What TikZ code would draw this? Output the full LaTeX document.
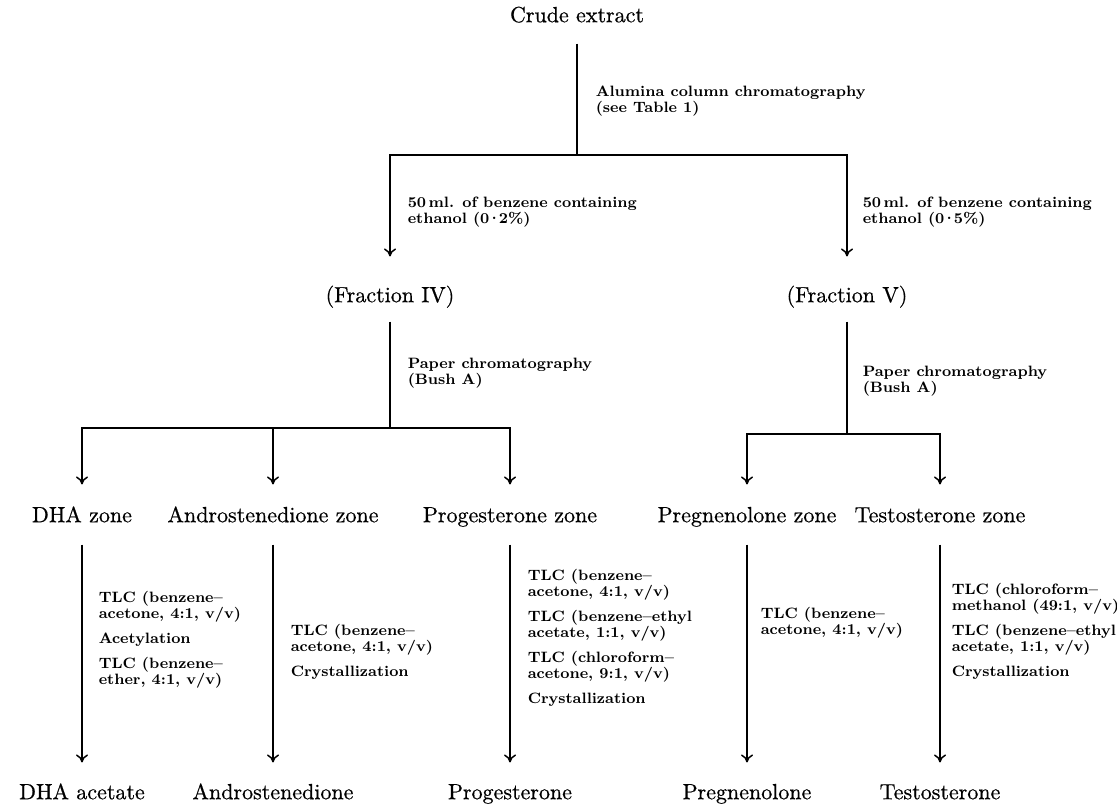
\documentclass[tikz,border=0pt]{standalone}
\usepackage{fontspec}
\usepackage{tikz}
\usetikzlibrary{positioning}
\usetikzlibrary{arrows.meta}

\newfontfamily\heavyrm[FakeBold=0.6]{Latin Modern Roman}
\newcommand{\mdot}{\kern-1.2pt·\kern-1.2pt}

\tikzset{
  item/.style={font=\heavyrm\fontsize{11}{12}\selectfont, inner sep=1pt,
    text height=7.5pt, text depth=2.3pt},
  note/.style={font=\bfseries\fontsize{7.5}{8}\selectfont, align=left,
    anchor=north west, inner sep=0pt},
}

\begin{document}
\begin{tikzpicture}[x=0.5pt, y=-0.5pt, line width=0.75pt, >={To[length=4pt,width=6pt]}]
    \useasboundingbox (0,0) rectangle (1117,803);
    % top
    \node[item] (crude) at (577,17) {Crude extract};
    \node[item] (frac4) at (390,297) {(Fraction IV)};
    \node[item] (frac5) at (847,297) {(Fraction V)};
    \coordinate (top) at (577,155);
    \coordinate (s4) at (390,428);
    \coordinate (s5) at (847,434);
    \node[note] (alumina) at (595,85) {Alumina column chromatography\\(see Table 1)};
    \node[note] (eth2) at (407,196) {50\,ml. of benzene containing\\ethanol (0\mdot2\%)};
    \node[note] (eth5) at (862,196) {50\,ml. of benzene containing\\ethanol (0\mdot5\%)};
    \node[note] (paper4) at (407,357) {Paper chromatography\\(Bush A)};
    \node[note] (paper5) at (862,365) {Paper chromatography\\(Bush A)};
    \draw[shorten <=7pt] (crude) -- (top);
    \draw[->, shorten >=14pt] (top) -| (frac4);
    \draw[->, shorten >=14pt] (top) -| (frac5);
    \draw[shorten <=6pt] (frac4) -- (s4);
    \draw[shorten <=6pt] (frac5) -- (s5);

    % zones
    \node[item] (dhaz) at (82,517) {DHA zone};
    \node[item] (androz) at (273,517) {Androstenedione zone};
    \node[item] (progz) at (510,517) {Progesterone zone};
    \node[item] (pregz) at (747,517) {Pregnenolone zone};
    \node[item] (testz) at (940,517) {Testosterone zone};
    \draw[->, shorten >=10pt] (s4) -| (dhaz);
    \draw[->, shorten >=10pt] (s4) -| (androz);
    \draw[->, shorten >=10pt] (s4) -| (progz);
    \draw[->, shorten >=10pt] (s5) -| (pregz);
    \draw[->, shorten >=10pt] (s5) -| (testz);

    % products
    \node[item] (dhap) at (82,794) {DHA acetate};
    \node[item] (androp) at (273,794) {Androstenedione};
    \node[item] (progp) at (510,794) {Progesterone};
    \node[item] (pregp) at (747,794) {Pregnenolone};
    \node[item] (testp) at (940,794) {Testosterone};
    \foreach \a/\b in {dhaz/dhap, androz/androp, progz/progp, pregz/pregp, testz/testp}
        \draw[->, shorten <=7.5pt, shorten >=9.5pt] (\a) -- (\b);

    % steps
    \node[note] (dhas) at (98,590) {TLC (benzene--\\acetone, 4:1, v/v)\\[4.5pt]Acetylation\\[4.5pt]TLC (benzene--\\ether, 4:1, v/v)};
    \node[note] (andros) at (290,623) {TLC (benzene--\\acetone, 4:1, v/v)\\[4.5pt]Crystallization};
    \node[note] (progs) at (527,568) {TLC (benzene--\\acetone, 4:1, v/v)\\[4.5pt]TLC (benzene--ethyl\\acetate, 1:1, v/v)\\[4.5pt]TLC (chloroform--\\acetone, 9:1, v/v)\\[4.5pt]Crystallization};
    \node[note] (pregs) at (760,606) {TLC (benzene--\\acetone, 4:1, v/v)};
    \node[note] (tests) at (951,582) {TLC (chloroform--\\methanol (49:1, v/v)\\[4.5pt]TLC (benzene--ethyl\\acetate, 1:1, v/v)\\[4.5pt]Crystallization};
\end{tikzpicture}
\end{document}
